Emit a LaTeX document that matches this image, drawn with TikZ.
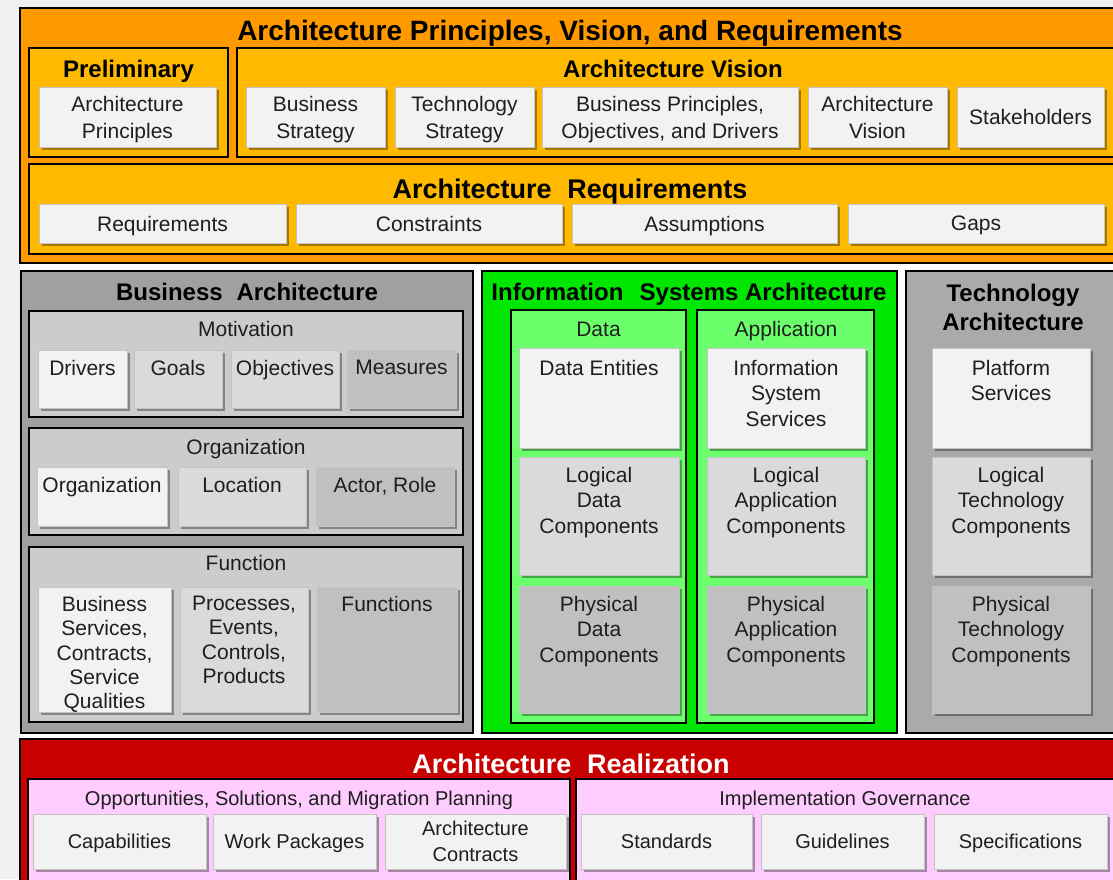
\documentclass[tikz,border=0pt]{standalone}
\usepackage{fontspec}
\setmainfont{Liberation Sans}
\usetikzlibrary{shadows,fit}
\definecolor{bgout}{HTML}{F0F0F0}
\definecolor{orgA}{HTML}{FF9900}
\definecolor{orgB}{HTML}{FFB900}
\definecolor{itW}{HTML}{F2F2F2}
\definecolor{itL}{HTML}{DADADA}
\definecolor{itM}{HTML}{C0C0C0}
\definecolor{baG}{HTML}{A0A0A0}
\definecolor{subG}{HTML}{CCCCCC}
\definecolor{grA}{HTML}{00E600}
\definecolor{grB}{HTML}{6CFF6C}
\definecolor{taG}{HTML}{AAAAAA}
\definecolor{redA}{HTML}{C80000}
\definecolor{pinkA}{HTML}{FFCCFF}
\definecolor{txt}{HTML}{1E1E1E}
\definecolor{itborder}{HTML}{C4C4C4}
\tikzset{
  cont/.style={draw=black, line width=1.4pt, inner sep=0pt, outer sep=0pt},
  itembox/.style={draw=itborder, line width=0.9pt, inner sep=0pt, outer sep=0pt,
    drop shadow={shadow xshift=3pt, shadow yshift=-3pt, opacity=0.35, fill=black}},
  itxt/.style={inner sep=0pt, align=center, text=txt, font=\fontsize{21}{25.5}\selectfont},
  itxtf/.style={inner sep=0pt, align=center, text=txt, font=\fontsize{21}{24.3}\selectfont},
  itxtb/.style={inner sep=0pt, align=center, text=txt, text depth=0pt, font=\fontsize{20}{26}\selectfont},
  itxttop/.style={inner sep=0pt, align=center, text=txt, text depth=0pt, font=\fontsize{21}{27}\selectfont},
  itxtc/.style={inner sep=0pt, align=center, text=txt, text depth=0pt, font=\fontsize{21}{25}\selectfont},
  lbl/.style={inner sep=0pt, anchor=base, text=txt, font=\fontsize{21}{25}\selectfont},
  ttl/.style={inner sep=0pt, anchor=base, text=black, font=\fontsize{24}{29}\selectfont\bfseries},
  bigttl/.style={inner sep=0pt, anchor=base, text=black, font=\fontsize{27}{32}\selectfont\bfseries},
}
% centered item: name, x1, y1, x2, y2, fill, style, text
\newcommand\itemC[8]{\node[itembox, fill=#6, fit={(#2,#3) (#4,#5)}] (#1) {};
  \node[#7, anchor=center] (#1-t) at (#1.center) {#8};}
% top aligned item: name, x1, y1, x2, y2, fill, offset, style, text
\newcommand\itemT[9]{\node[itembox, fill=#6, fit={(#2,#3) (#4,#5)}] (#1) {};
  \node[#8, anchor=north] (#1-t) at ([yshift=-#7pt]#1.north) {#9};}
\begin{document}
\begin{tikzpicture}[x=1pt, y=-1pt]
\useasboundingbox (0,0) rectangle (1113,879);
\fill[bgout] (0,0) rectangle (1113,879);
\fill[white] (20,7) rectangle (1113,879);

% ---------- top section ----------
\node[cont, fill=orgA, fit={(20,8) (1130,263)}] (apvr) {};
\node[inner sep=0pt, anchor=base, font=\fontsize{28}{32}\selectfont\bfseries] (apvr-t) at (570,40) {Architecture Principles, Vision, and Requirements};

\node[cont, fill=orgB, fit={(29,48) (228,157)}] (prelim) {};
\node[ttl] (prelim-t) at (128.5,77) {Preliminary};
\itemC{ap}{39}{87}{216}{147}{itW}{itxttop}{Architecture\\Principles}

\node[cont, fill=orgB, fit={(237,48) (1125,157)}] (vision) {};
\node[ttl] (vision-t) at (673,77) {Architecture Vision};
\itemC{bs}{246}{87}{385}{147}{itW}{itxttop}{Business\\Strategy}
\itemC{ts}{395}{87}{534}{147}{itW}{itxttop}{Technology\\Strategy}
\itemC{bp}{542}{87}{798}{147}{itW}{itxttop}{Business Principles,\\Objectives, and Drivers}
\itemC{av}{808}{87}{947}{147}{itW}{itxttop}{Architecture\\Vision}
\itemC{sh}{957}{87}{1104}{147}{itW}{itxttop}{Stakeholders}

\node[cont, fill=orgB, fit={(29,164) (1125,254)}] (req) {};
\node[bigttl] (req-t) at (570,198) {Architecture\hspace{0.3em} Requirements};
\itemC{rq}{39}{204}{286}{243}{itW}{itxtc}{Requirements}
\itemC{cs}{296}{204}{562}{243}{itW}{itxtc}{Constraints}
\itemC{as}{572}{204}{837}{243}{itW}{itxtc}{Assumptions}
\itemC{gp}{848}{204}{1104}{243}{itW}{itxtc}{Gaps}

% ---------- business architecture ----------
\node[cont, fill=baG, fit={(21,271) (473,733)}] (ba) {};
\node[ttl] (ba-t) at (247,300.5) {Business\hspace{0.3em} Architecture};

\node[cont, fill=subG, fit={(29,311) (463,417)}] (mot) {};
\node[lbl] (mot-t) at (246,336.5) {Motivation};
\itemT{drv}{38}{350}{127}{408}{itW}{10}{itxt}{Drivers}
\itemT{gls}{134}{350}{222}{408}{itL}{10}{itxt}{Goals}
\itemT{obj}{231}{350}{339}{408}{itL}{10}{itxt}{Objectives}
\itemT{mea}{347}{350}{456}{408}{itM}{10}{itxt}{Measures}

\node[cont, fill=subG, fit={(29,428) (463,535)}] (org) {};
\node[lbl] (org-t) at (246,454.5) {Organization};
\itemT{orgi}{37}{467}{167}{526}{itW}{10}{itxt}{Organization}
\itemT{loc}{178}{467}{306}{526}{itL}{10}{itxt}{Location}
\itemT{act}{316}{467}{454}{526}{itM}{10}{itxt}{Actor, Role}

\node[cont, fill=subG, fit={(29,547) (463,722)}] (fun) {};
\node[lbl] (fun-t) at (246,570.5) {Function};
\itemT{bsv}{38}{587}{171}{712}{itW}{9}{itxtf}{Business\\Services,\\Contracts,\\Service\\Qualities}
\itemT{pro}{180}{587}{308}{712}{itL}{9}{itxtf}{Processes,\\Events,\\Controls,\\Products}
\itemT{fns}{317}{587}{457}{712}{itM}{9}{itxtf}{Functions}

% ---------- information systems architecture ----------
\node[cont, fill=grA, fit={(482,271) (897,733)}] (isa) {};
\node[ttl] (isa-t) at (689,300.5) {Information\hspace{0.4em} Systems Architecture};

\node[cont, fill=grB, fit={(511,310) (686,723)}] (data) {};
\node[lbl] (data-t) at (598.5,336.5) {Data};
\itemT{den}{519}{348}{679}{448}{itW}{12}{itxt}{Data Entities}
\itemT{ldc}{519}{457}{679}{575}{itL}{10}{itxt}{Logical\\Data\\Components}
\itemT{pdc}{519}{586}{679}{713}{itM}{10}{itxt}{Physical\\Data\\Components}

\node[cont, fill=grB, fit={(697,310) (874,723)}] (app) {};
\node[lbl] (app-t) at (786,336.5) {Application};
\itemT{iss}{707}{348}{865}{448}{itW}{12}{itxt}{Information\\System\\Services}
\itemT{lac}{707}{457}{865}{575}{itL}{10}{itxt}{Logical\\Application\\Components}
\itemT{pac}{707}{586}{865}{713}{itM}{10}{itxt}{Physical\\Application\\Components}

% ---------- technology architecture ----------
\node[cont, fill=taG, fit={(906,271) (1130,733)}] (ta) {};
\node[inner sep=0pt, anchor=north, align=center, text=black, font=\fontsize{24}{29}\selectfont\bfseries] (ta-t) at (1013,283.5) {Technology\\Architecture};
\itemT{pls}{932}{348}{1090}{448}{itW}{12}{itxt}{Platform\\Services}
\itemT{ltc}{932}{457}{1090}{575}{itL}{10}{itxt}{Logical\\Technology\\Components}
\itemT{ptc}{932}{586}{1090}{713}{itM}{10}{itxt}{Physical\\Technology\\Components}

% ---------- architecture realization ----------
\node[cont, fill=redA, fit={(20,739) (1130,895)}] (real) {};
\node[bigttl, text=white] (real-t) at (571,773) {Architecture\hspace{0.3em} Realization};

\node[cont, fill=pinkA, fit={(28,779) (570,895)}] (opp) {};
\node[inner sep=0pt, anchor=base, text=txt, font=\fontsize{20}{24}\selectfont] (opp-t) at (299,805.5) {Opportunities, Solutions, and Migration Planning};
\itemC{cap}{33}{814}{206}{869}{itW}{itxtb}{Capabilities}
\itemC{wp}{213}{814}{376}{869}{itW}{itxtb}{Work Packages}
\itemC{ac}{385}{814}{566}{869}{itW}{itxtb}{Architecture\\Contracts}

\node[cont, fill=pinkA, fit={(576,779) (1125,895)}] (impl) {};
\node[inner sep=0pt, anchor=base, text=txt, font=\fontsize{20}{24}\selectfont] (impl-t) at (845,805.5) {Implementation Governance};
\itemC{std}{581}{814}{752}{869}{itW}{itxtb}{Standards}
\itemC{gdl}{761}{814}{924}{869}{itW}{itxtb}{Guidelines}
\itemC{spc}{934}{814}{1107}{869}{itW}{itxtb}{Specifications}
\end{tikzpicture}
\end{document}
